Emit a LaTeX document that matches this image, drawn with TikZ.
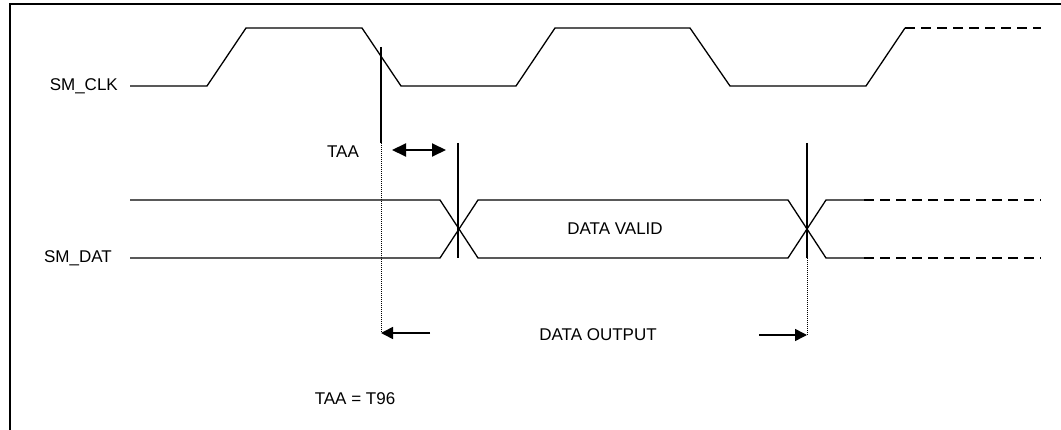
\documentclass[tikz,border=0pt]{standalone}
\usepackage{fontspec}
\setmainfont{Liberation Sans}
\usetikzlibrary{arrows.meta}
\begin{document}
\begin{tikzpicture}[x=1pt,y=-1pt,
  sig/.style={line width=1.3pt,line join=miter},
  dsig/.style={line width=1.3pt,dash pattern=on 10pt off 6pt},
  vmark/.style={line width=1.3pt},
  dots/.style={line width=0.8pt,dash pattern=on 1pt off 1pt},
  lbl/.style={inner sep=0pt,font=\fontsize{17}{20}\selectfont},
  bigarrow/.style={line width=2pt,{Triangle[length=14pt,width=13pt]}-{Triangle[length=14pt,width=13pt]}},
  onearrow/.style={line width=1.6pt,-{Triangle[length=12pt,width=12pt]}}]
\useasboundingbox (0,0) rectangle (1061,430);
% frame
\draw[line width=2pt] (10,430) -- (10,4) -- (1061,4);
% labels
\node[lbl,anchor=east] (clk) at (118,86) {SM\_CLK};
\node[lbl,anchor=east] (dat) at (112,258) {SM\_DAT};
\node[lbl] (taa) at (343,152) {TAA};
\node[lbl] (valid) at (615,229) {DATA VALID};
\node[lbl] (out) at (598,335) {DATA OUTPUT};
\node[lbl] (taaeq) at (355,399) {TAA = T96};
% clock
\coordinate (c0) at (130,86);
\coordinate (c1) at (207,86);
\coordinate (c2) at (246,28);
\coordinate (c3) at (362,28);
\coordinate (c4) at (401,86);
\coordinate (c5) at (516,86);
\coordinate (c6) at (555,28);
\coordinate (c7) at (690,28);
\coordinate (c8) at (730,86);
\coordinate (c9) at (866,86);
\coordinate (c10) at (905,28);
\coordinate (c11) at (1041,28);
\draw[sig] (c0) -- (c1) -- (c2) -- (c3) -- (c4) -- (c5) -- (c6) -- (c7) -- (c8) -- (c9) -- (c10);
\draw[dsig] (c10) -- (c11);
% data
\coordinate (d0t) at (130,200);
\coordinate (d0b) at (130,258);
\coordinate (d1t) at (440,200);
\coordinate (d1b) at (440,258);
\coordinate (d2t) at (478,200);
\coordinate (d2b) at (478,258);
\coordinate (d3t) at (788,200);
\coordinate (d3b) at (788,258);
\coordinate (d4t) at (826,200);
\coordinate (d4b) at (826,258);
\coordinate (d5t) at (864,200);
\coordinate (d5b) at (864,258);
\coordinate (d6t) at (1041,200);
\coordinate (d6b) at (1041,258);
\draw[sig] (d0t) -- (d1t) -- (d2b) -- (d3b) -- (d4t) -- (d5t);
\draw[sig] (d0b) -- (d1b) -- (d2t) -- (d3t) -- (d4b) -- (d5b);
\draw[dsig] (d5t) -- (d6t);
\draw[dsig] (d5b) -- (d6b);
% markers
\coordinate (m1a) at (381,47);
\coordinate (m1b) at (381,143);
\coordinate (m1c) at (381,333);
\coordinate (m2a) at (458,143);
\coordinate (m2b) at (458,258);
\coordinate (m3a) at (807,143);
\coordinate (m3b) at (807,258);
\coordinate (m3c) at (807,335);
\draw[vmark] (m1a) -- (m1b);
\draw[dots] (m1b) -- (m1c);
\draw[vmark] (m2a) -- (m2b);
\draw[vmark] (m3a) -- (m3b);
\draw[dots] (m3b) -- (m3c);
% arrows
\coordinate (a1) at (392,150);
\coordinate (a2) at (446,150);
\draw[bigarrow] (a1) -- (a2);
\coordinate (o1) at (430,333);
\draw[onearrow] (o1) -- (m1c);
\coordinate (o2) at (759,335);
\draw[onearrow] (o2) -- (m3c);
\end{tikzpicture}
\end{document}
